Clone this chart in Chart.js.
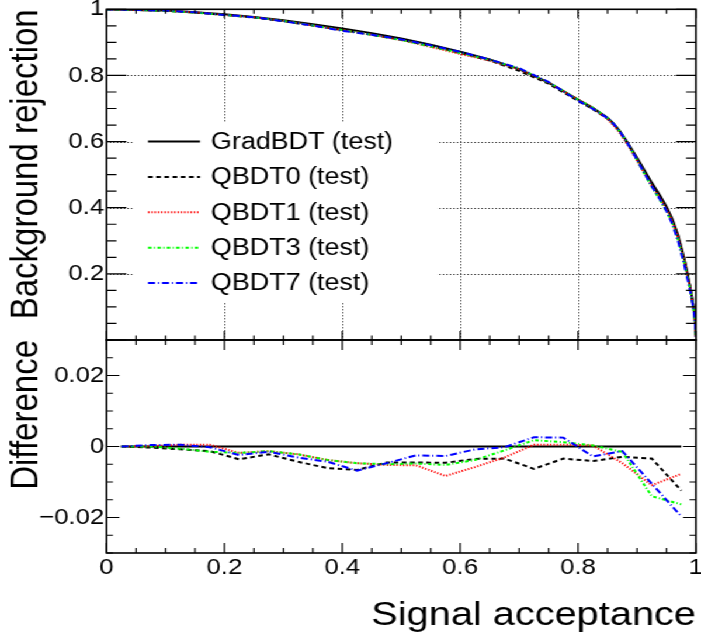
<!DOCTYPE html>
<html><head><meta charset="utf-8">
<script src="https://cdn.jsdelivr.net/npm/chart.js@4.4.1/dist/chart.umd.min.js"></script>
<style>
html,body{margin:0;padding:0;background:#fff;overflow:hidden;}
#wrap{position:relative;width:600px;height:640px;transform:scaleX(1.16833);transform-origin:0 0;}
#wrap canvas{position:absolute;left:0;top:0;}
</style></head><body>
<div id="wrap"><canvas id="bot" width="600" height="640"></canvas><canvas id="top" width="600" height="640"></canvas></div>
<script>
// ---------- data ----------
const seriesLabels = ['GradBDT (test)', 'QBDT0 (test)', 'QBDT1 (test)', 'QBDT3 (test)', 'QBDT7 (test)'];

const rocX       = [0, 0.05, 0.1, 0.15, 0.2, 0.25, 0.3, 0.35, 0.4, 0.45, 0.5, 0.55, 0.6, 0.65, 0.7, 0.75, 0.8, 0.825, 0.85, 0.86, 0.87, 0.88, 0.89, 0.9, 0.91, 0.925, 0.94, 0.95, 0.96, 0.97, 0.98, 0.985, 0.99, 0.995, 0.998, 1.0];
const rocGradBDT = [1.000, 0.998, 0.996, 0.991, 0.985, 0.977, 0.967, 0.955, 0.942, 0.928, 0.912, 0.893, 0.872, 0.848, 0.819, 0.778, 0.727, 0.702, 0.672, 0.655, 0.634, 0.608, 0.580, 0.551, 0.521, 0.476, 0.434, 0.403, 0.366, 0.315, 0.247, 0.207, 0.163, 0.110, 0.068, 0.010];
const rocQBDT0   = [1.000, 0.998, 0.995, 0.990, 0.983, 0.975, 0.964, 0.951, 0.937, 0.923, 0.908, 0.889, 0.868, 0.845, 0.814, 0.775, 0.723, 0.698, 0.669, 0.652, 0.631, 0.605, 0.577, 0.548, 0.518, 0.473, 0.431, 0.400, 0.362, 0.311, 0.243, 0.203, 0.160, 0.108, 0.067, 0.010];
const rocQBDT1   = [1.000, 0.998, 0.996, 0.991, 0.983, 0.976, 0.965, 0.951, 0.937, 0.923, 0.907, 0.886, 0.865, 0.845, 0.819, 0.778, 0.727, 0.702, 0.668, 0.650, 0.628, 0.602, 0.573, 0.543, 0.512, 0.466, 0.425, 0.395, 0.358, 0.308, 0.241, 0.202, 0.159, 0.107, 0.066, 0.010];
const rocQBDT3   = [1.000, 0.998, 0.995, 0.990, 0.983, 0.976, 0.965, 0.951, 0.937, 0.923, 0.907, 0.888, 0.868, 0.847, 0.821, 0.779, 0.727, 0.702, 0.671, 0.654, 0.632, 0.606, 0.576, 0.544, 0.511, 0.463, 0.420, 0.389, 0.352, 0.301, 0.234, 0.196, 0.155, 0.105, 0.065, 0.010];
const rocQBDT7   = [1.000, 0.998, 0.996, 0.991, 0.983, 0.976, 0.964, 0.951, 0.935, 0.923, 0.909, 0.891, 0.871, 0.848, 0.822, 0.780, 0.724, 0.699, 0.671, 0.654, 0.632, 0.606, 0.576, 0.545, 0.512, 0.465, 0.422, 0.390, 0.350, 0.297, 0.228, 0.189, 0.150, 0.102, 0.063, 0.010];

const diffX       = [0.025, 0.075, 0.125, 0.175, 0.225, 0.275, 0.325, 0.375, 0.425, 0.475, 0.525, 0.575, 0.625, 0.675, 0.725, 0.775, 0.825, 0.875, 0.925, 0.975];
const diffGradBDT = [0, 0, 0, 0, 0, 0, 0, 0, 0, 0, 0, 0, 0, 0, 0, 0, 0, 0, 0, 0];
const diffQBDT0   = [0, -0.0003, -0.0008, -0.0013, -0.0036, -0.0022, -0.0043, -0.0061, -0.0066, -0.0045, -0.0045, -0.0046, -0.0035, -0.0034, -0.0063, -0.0034, -0.0041, -0.0029, -0.0034, -0.0124];
const diffQBDT1   = [0, 0.0001, 0.0005, 0.0005, -0.0018, -0.0013, -0.0022, -0.0038, -0.0047, -0.0052, -0.0053, -0.0083, -0.0058, -0.0031, 0.0005, 0.0005, 0.0003, -0.0047, -0.0109, -0.0077];
const diffQBDT3   = [0, 0, -0.0006, -0.0015, -0.0018, -0.0013, -0.0022, -0.0038, -0.0047, -0.0050, -0.0048, -0.0052, -0.0038, -0.0011, 0.0018, 0.0012, 0.0003, -0.0015, -0.0140, -0.0163];
const diffQBDT7   = [0, 0.0004, 0.0005, -0.0002, -0.0024, -0.0015, -0.0031, -0.0043, -0.0068, -0.0047, -0.0025, -0.0027, -0.0008, -0.0002, 0.0026, 0.0025, -0.0028, -0.0013, -0.0105, -0.0197];

const xTickValues    = [0, 0.2, 0.4, 0.6, 0.8, 1];
const xTickLabels    = ['0', '0.2', '0.4', '0.6', '0.8', '1'];
const topYTickValues = [0.2, 0.4, 0.6, 0.8, 1];
const topYTickLabels = ['0.2', '0.4', '0.6', '0.8', '1'];
const botYTickValues = [-0.02, 0, 0.02];
const botYTickLabels = ['\u22120.02', '0', '0.02'];
const topGridX = [0.2, 0.4, 0.6, 0.8];
const topGridY = [0.2, 0.4, 0.6, 0.8];

// ---------- styles ----------
const FONT = '"Liberation Sans", Arial, Helvetica, sans-serif';
const styles = [
  {color: '#000000', dash: [],               order: 5},
  {color: '#000000', dash: [4, 3],           order: 4},
  {color: '#ff0000', dash: [1.2, 1.6],       order: 3},
  {color: '#00ff00', dash: [3, 2, 1, 2],     order: 2},
  {color: '#0000ff', dash: [6, 2.5, 1, 2.5], order: 1}
];
function mk(xs, ys, i) {
  return {
    label: seriesLabels[i],
    data: xs.map((x, k) => ({x: x, y: ys[k]})),
    borderColor: styles[i].color, backgroundColor: styles[i].color,
    borderDash: styles[i].dash, borderWidth: 2,
    pointRadius: 0, tension: 0, fill: false, order: styles[i].order
  };
}
function fixedTicks(values, labels) {
  return {
    afterBuildTicks: s => { s.ticks = values.map(v => ({value: v})); },
    cb: (v) => { const i = values.findIndex(t => Math.abs(t - v) < 1e-9); return i < 0 ? '' : labels[i]; }
  };
}

// ---------- ROOT-like frame / ticks / grid / legend ----------
const rootPlugin = {
  id: 'rootStyle',
  beforeDatasetsDraw(chart, args, o) {
    const ctx = chart.ctx, a = chart.chartArea, xs = chart.scales.x, ys = chart.scales.y;
    if (o.gridX) {
      ctx.save(); ctx.strokeStyle = '#000'; ctx.lineWidth = 1; ctx.setLineDash([1, 2]);
      for (const v of o.gridX) { const p = Math.round(xs.getPixelForValue(v)) + 0.5; ctx.beginPath(); ctx.moveTo(p, a.top); ctx.lineTo(p, a.bottom); ctx.stroke(); }
      for (const v of o.gridY) { const p = Math.round(ys.getPixelForValue(v)) + 0.5; ctx.beginPath(); ctx.moveTo(a.left, p); ctx.lineTo(a.right, p); ctx.stroke(); }
      ctx.restore();
    }
  },
  afterDatasetsDraw(chart, args, o) {
    const ctx = chart.ctx, a = chart.chartArea, xs = chart.scales.x, ys = chart.scales.y;
    ctx.save();
    if (o.legend) {
      const L = o.legend;
      ctx.fillStyle = '#fff';
      ctx.fillRect(L.box[0], L.box[1], L.box[2], L.box[3]);
      ctx.font = L.size + 'px ' + FONT; ctx.textBaseline = 'middle'; ctx.textAlign = 'left';
      chart.data.datasets.forEach((d, i) => {
        const yy = L.y0 + i * L.dy;
        ctx.strokeStyle = d.borderColor; ctx.lineWidth = d.borderWidth; ctx.setLineDash(d.borderDash || []);
        ctx.beginPath(); ctx.moveTo(L.x1, yy); ctx.lineTo(L.x2, yy); ctx.stroke();
        ctx.setLineDash([]); ctx.fillStyle = '#000';
        ctx.fillText(d.label, L.tx, yy + 1);
      });
    }
    ctx.setLineDash([]); ctx.strokeStyle = '#000'; ctx.lineWidth = 1.2;
    const iter = (t, fn) => {
      const n = Math.round((t.max - t.min) / t.minor);
      for (let i = 0; i <= n; i++) {
        const v = t.min + i * t.minor;
        const maj = Math.abs(v / t.major - Math.round(v / t.major)) < 1e-6;
        fn(v, maj);
      }
    };
    iter(o.tx, (v, maj) => {
      const p = xs.getPixelForValue(v), L = maj ? o.tx.lmaj : o.tx.lmin;
      ctx.beginPath(); ctx.moveTo(p, a.bottom); ctx.lineTo(p, a.bottom - L); ctx.moveTo(p, a.top); ctx.lineTo(p, a.top + L); ctx.stroke();
    });
    iter(o.ty, (v, maj) => {
      const p = ys.getPixelForValue(v), L = maj ? o.ty.lmaj : o.ty.lmin;
      ctx.beginPath(); ctx.moveTo(a.left, p); ctx.lineTo(a.left + L, p); ctx.moveTo(a.right, p); ctx.lineTo(a.right - L, p); ctx.stroke();
    });
    ctx.lineWidth = 1.6;
    ctx.strokeRect(a.left, a.top, a.right - a.left, a.bottom - a.top);
    ctx.restore();
  }
};

const PLOT_LEFT = 91.2, PLOT_RIGHT_PAD = 4.3;
const tickFont = {family: FONT, size: 22};
const titleFont = {family: FONT, size: 33};
function yFit(s) { s.width = PLOT_LEFT; s.paddingTop = 0; s.paddingBottom = 0; }

const topY = fixedTicks(topYTickValues, topYTickLabels);
const botY = fixedTicks(botYTickValues, botYTickLabels);
const botX = fixedTicks(xTickValues, xTickLabels);

// ---------- top pad: ROC ----------
new Chart(document.getElementById('top'), {
  type: 'line',
  data: {datasets: [
    mk(rocX, rocGradBDT, 0), mk(rocX, rocQBDT0, 1), mk(rocX, rocQBDT1, 2), mk(rocX, rocQBDT3, 3), mk(rocX, rocQBDT7, 4)
  ]},
  options: {
    responsive: false, animation: false, devicePixelRatio: 1,
    layout: {padding: {top: 9.3, bottom: 300, left: 0, right: PLOT_RIGHT_PAD}},
    plugins: {legend: {display: false}, tooltip: {enabled: false},
      rootStyle: {
        gridX: topGridX, gridY: topGridY,
        tx: {min: 0, max: 1, minor: 0.05, major: 0.2, lmaj: 9, lmin: 4.5},
        ty: {min: 0, max: 1, minor: 0.05, major: 0.2, lmaj: 17, lmin: 8.5},
        legend: {box: [114.7, 122, 260, 181], x1: 126.7, x2: 171.2, tx: 180.6, y0: 141.5, dy: 35.4, size: 23}
      }
    },
    scales: {
      x: {type: 'linear', min: 0, max: 1, display: false},
      y: {type: 'linear', min: 0, max: 1,
        grid: {display: false, drawTicks: false}, border: {display: false},
        afterBuildTicks: topY.afterBuildTicks,
        ticks: {padding: 2, color: '#000', font: tickFont, autoSkip: false, callback: topY.cb},
        title: {display: true, text: 'Background rejection', align: 'end', color: '#000', font: titleFont, padding: {top: 2.8, bottom: 0}},
        afterFit: yFit}
    }
  },
  plugins: [rootPlugin]
});

// ---------- bottom pad: differences ----------
new Chart(document.getElementById('bot'), {
  type: 'line',
  data: {datasets: [
    mk(diffX, diffGradBDT, 0), mk(diffX, diffQBDT0, 1), mk(diffX, diffQBDT1, 2), mk(diffX, diffQBDT3, 3), mk(diffX, diffQBDT7, 4)
  ]},
  options: {
    responsive: false, animation: false, devicePixelRatio: 1,
    layout: {padding: {top: 340, bottom: 0, left: 0, right: PLOT_RIGHT_PAD}},
    plugins: {legend: {display: false}, tooltip: {enabled: false},
      rootStyle: {
        tx: {min: 0, max: 1, minor: 0.05, major: 0.2, lmaj: 10, lmin: 5},
        ty: {min: -0.03, max: 0.03, minor: 0.005, major: 0.02, lmaj: 11, lmin: 5.5}
      }
    },
    scales: {
      x: {type: 'linear', min: 0, max: 1,
        grid: {display: false, drawTicks: false}, border: {display: false},
        afterBuildTicks: botX.afterBuildTicks,
        ticks: {padding: 2, color: '#000', font: tickFont, maxRotation: 0, autoSkip: false, callback: botX.cb},
        title: {display: true, text: 'Signal acceptance', align: 'end', color: '#000', font: {family: FONT, size: 34}, padding: {top: 0, bottom: 4.4}},
        afterFit: s => { s.height = 87; s.paddingLeft = 0; s.paddingRight = 0; }},
      y: {type: 'linear', min: -0.03, max: 0.03,
        grid: {display: false, drawTicks: false}, border: {display: false},
        afterBuildTicks: botY.afterBuildTicks,
        ticks: {padding: 2, color: '#000', font: tickFont, autoSkip: false, callback: botY.cb},
        title: {display: true, text: 'Difference', align: 'end', color: '#000', font: titleFont, padding: {top: 2.8, bottom: 0}},
        afterFit: yFit}
    }
  },
  plugins: [rootPlugin]
});
</script>
</body></html>
